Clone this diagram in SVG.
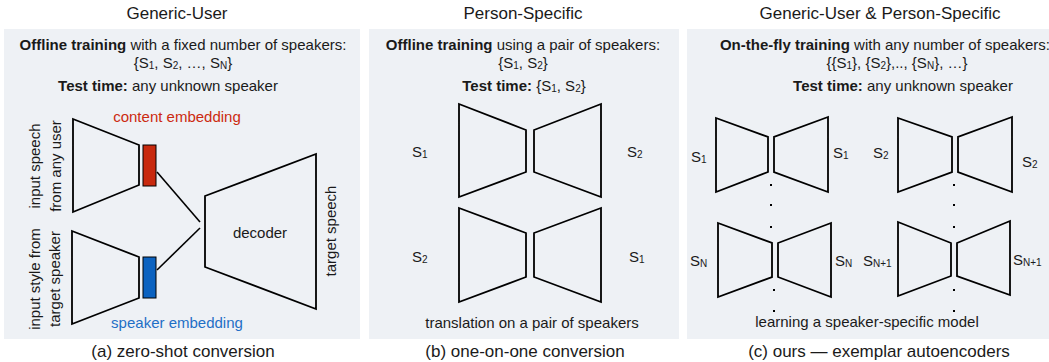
<svg xmlns="http://www.w3.org/2000/svg" width="1049" height="362" viewBox="0 0 1049 362">
<style>
text{font-family:"Liberation Sans",Arial,Helvetica,sans-serif;fill:#1a1a1a}
.t{font-size:17px;text-anchor:middle}
.b{font-size:15px;text-anchor:middle}
.s{font-size:15px}
.bold{font-weight:bold}
.sub{font-size:10px}
.panel{fill:#eef1f5}
.tr{fill:none;stroke:#000;stroke-width:1.8;stroke-linejoin:miter}
.ln{stroke:#000;stroke-width:1.6;fill:none}
.dot{fill:#000}
</style>
<rect width="1049" height="362" fill="#fff"/>
<g id="panels">
<rect class="panel" x="4" y="29" width="356" height="310"/>
<rect class="panel" x="369" y="29" width="310" height="310"/>
<rect class="panel" x="687" y="29" width="362" height="310"/>
</g>
<g id="titles">
<text class="t" x="177" y="19">Generic-User</text>
<text class="t" x="523" y="19">Person-Specific</text>
<text class="t" x="880" y="19">Generic-User &amp; Person-Specific</text>
<text class="t" x="183" y="357">(a) zero-shot conversion</text>
<text class="t" x="525" y="357">(b) one-on-one conversion</text>
<text class="t" x="879" y="357">(c) ours — exemplar autoencoders</text>
</g>
<g id="panel-a-text">
<text class="b" x="183" y="50"><tspan class="bold">Offline training</tspan> with a fixed number of speakers:</text>
<text class="b" x="183" y="68">{S<tspan class="sub" dy="1">1</tspan><tspan dy="-1">, S</tspan><tspan class="sub" dy="1">2</tspan><tspan dy="-1">, …, S</tspan><tspan class="sub" dy="1">N</tspan><tspan dy="-1">}</tspan></text>
<text class="b" x="168" y="91"><tspan class="bold">Test time:</tspan> any unknown speaker</text>
</g>
<g id="content-encoder">
<polygon class="tr" points="73,119 139,145 139,185 73,212"/>
<text class="s" transform="translate(40,166) rotate(-90)" text-anchor="middle">input speech</text>
<text class="s" transform="translate(61,166) rotate(-90)" text-anchor="middle">from any user</text>
</g>
<g id="content-embedding">
<rect x="143" y="145" width="13" height="41" fill="#c8290e" stroke="#000" stroke-width="1"/>
<text class="b" x="177" y="122" style="fill:#cc2a10">content embedding</text>
</g>
<g id="speaker-encoder">
<polygon class="tr" points="72,231 139,257 139,298 72,324"/>
<text class="s" transform="translate(40,279) rotate(-90)" text-anchor="middle">input style from</text>
<text class="s" transform="translate(60,279) rotate(-90)" text-anchor="middle">target speaker</text>
</g>
<g id="speaker-embedding">
<rect x="143" y="257" width="13" height="41" fill="#0b62c0" stroke="#000" stroke-width="1"/>
<text class="b" x="177" y="328" style="fill:#1f6fc6">speaker embedding</text>
</g>
<g id="decoder">
<polygon class="tr" points="205,196 316,154 316,309 205,267"/>
<text class="b" x="260" y="238">decoder</text>
<text class="s" transform="translate(336,231) rotate(-90)" text-anchor="middle">target speech</text>
</g>
<g id="connectors">
<line class="ln" x1="157" y1="172" x2="200" y2="222"/>
<line class="ln" x1="157" y1="270" x2="200" y2="228"/>
</g>
<g id="panel-b-text">
<text class="b" x="523" y="50"><tspan class="bold">Offline training</tspan> using a pair of speakers:</text>
<text class="b" x="523" y="68">{S<tspan class="sub" dy="1">1</tspan><tspan dy="-1">, S</tspan><tspan class="sub" dy="1">2</tspan><tspan dy="-1">}</tspan></text>
<text class="b" x="524" y="91"><tspan class="bold">Test time:</tspan> {S<tspan class="sub" dy="1">1</tspan><tspan dy="-1">, S</tspan><tspan class="sub" dy="1">2</tspan><tspan dy="-1">}</tspan></text>
<text class="b" x="532" y="328">translation on a pair of speakers</text>
</g>
<g id="ae-s1-s2">
<polygon class="tr" points="459,104 526,130 526,172 459,197"/>
<polygon class="tr" points="601,104 534,130 534,172 601,197"/>
<text class="s" x="412" y="157">S<tspan class="sub" dy="1">1</tspan></text>
<text class="s" x="627" y="157">S<tspan class="sub" dy="1">2</tspan></text>
</g>
<g id="ae-s2-s1">
<polygon class="tr" points="459,208 526,233 526,277 459,302"/>
<polygon class="tr" points="601,208 534,233 534,277 601,302"/>
<text class="s" x="412" y="262">S<tspan class="sub" dy="1">2</tspan></text>
<text class="s" x="629" y="262">S<tspan class="sub" dy="1">1</tspan></text>
</g>
<g id="panel-c-text">
<text class="b" x="885" y="50"><tspan class="bold">On-the-fly training</tspan> with any number of speakers:</text>
<text class="b" x="897" y="68">{{S<tspan class="sub" dy="1">1</tspan><tspan dy="-1">}, {S</tspan><tspan class="sub" dy="1">2</tspan><tspan dy="-1">},.., {S</tspan><tspan class="sub" dy="1">N</tspan><tspan dy="-1">}, …}</tspan></text>
<text class="b" x="903" y="91"><tspan class="bold">Test time:</tspan> any unknown speaker</text>
<text class="b" x="867" y="327">learning a speaker-specific model</text>
</g>
<g id="ae-1">
<polygon class="tr" points="716,118 768,137 768,172 716,192"/>
<polygon class="tr" points="828,117 774,137 774,172 828,192"/>
<text class="s" x="691" y="162">S<tspan class="sub" dy="1">1</tspan></text>
<text class="s" x="833" y="158">S<tspan class="sub" dy="1">1</tspan></text>
</g>
<g id="ae-2">
<polygon class="tr" points="898,118 952,137 952,172 898,192"/>
<polygon class="tr" points="1012,117 958,137 958,172 1012,192"/>
<text class="s" x="873" y="158">S<tspan class="sub" dy="1">2</tspan></text>
<text class="s" x="1022" y="167">S<tspan class="sub" dy="1">2</tspan></text>
</g>
<g id="ae-n">
<polygon class="tr" points="718,223 772,243 772,277 718,297"/>
<polygon class="tr" points="831,223 778,243 778,277 831,297"/>
<text class="s" x="690" y="266">S<tspan class="sub" dy="1">N</tspan></text>
<text class="s" x="835" y="266">S<tspan class="sub" dy="1">N</tspan></text>
</g>
<g id="ae-n1">
<polygon class="tr" points="898,222 951,243 951,276 898,296"/>
<polygon class="tr" points="1010,221 957,243 957,276 1010,295"/>
<text class="s" x="863" y="266">S<tspan class="sub" dy="1">N+1</tspan></text>
<text class="s" x="1013" y="265">S<tspan class="sub" dy="1">N+1</tspan></text>
</g>
<g id="ellipses">
<rect class="dot" x="770" y="184" width="2" height="2"/>
<rect class="dot" x="770" y="204" width="2" height="2"/>
<rect class="dot" x="770" y="226" width="2" height="2"/>
<rect class="dot" x="773" y="289" width="2" height="2"/>
<rect class="dot" x="773" y="310" width="2" height="2"/>
<rect class="dot" x="953" y="184" width="2" height="2"/>
<rect class="dot" x="953" y="204" width="2" height="2"/>
<rect class="dot" x="953" y="226" width="2" height="2"/>
<rect class="dot" x="953" y="289" width="2" height="2"/>
<rect class="dot" x="953" y="310" width="2" height="2"/>
</g>
</svg>
